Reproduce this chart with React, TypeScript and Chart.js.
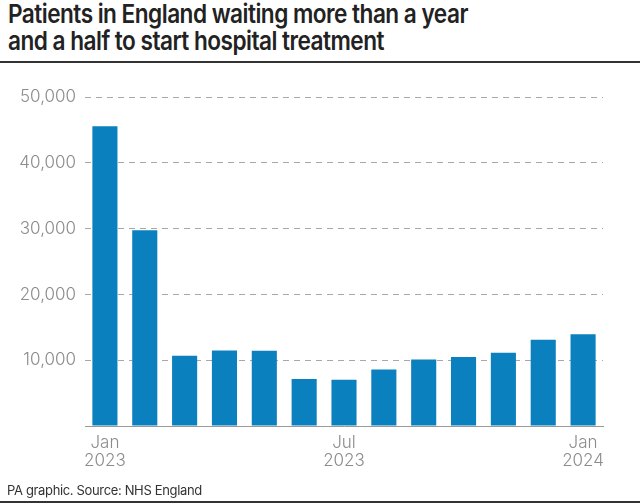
import React, { useEffect, useRef } from "react";
import { Chart, registerables } from "chart.js";

Chart.register(...registerables);

const months = ["Jan", "Feb", "Mar", "Apr", "May", "Jun", "Jul", "Aug", "Sep", "Oct", "Nov", "Dec", "Jan"];
const years = ["2023", "2023", "2023", "2023", "2023", "2023", "2023", "2023", "2023", "2023", "2023", "2023", "2024"];
const labelledIndices = [0, 6, 12];
const waiting = [45570, 29740, 10670, 11490, 11430, 7130, 7030, 8600, 10120, 10470, 11120, 13100, 13960];
const yTicks = [0, 10000, 20000, 30000, 40000, 50000];

const TITLE_LINE_1 = "Patients in England waiting more than a year";
const TITLE_LINE_2 = "and a half to start hospital treatment";
const SOURCE = "PA graphic. Source: NHS England";

export default function App() {
  const canvasRef = useRef<HTMLCanvasElement | null>(null);

  useEffect(() => {
    if (!canvasRef.current) return;
    const chart = new Chart(canvasRef.current, {
      type: "bar",
      data: {
        labels: months.map((m, i) => `${m} ${years[i]}`),
        datasets: [
          {
            data: waiting,
            backgroundColor: "#0b80be",
            borderWidth: 0,
            categoryPercentage: 1,
            barPercentage: 0.63,
          },
        ],
      },
      options: {
        animation: false,
        responsive: false,
        maintainAspectRatio: false,
        layout: { padding: { left: 0, right: 37, top: 97, bottom: 28 } },
        plugins: { legend: { display: false }, tooltip: { enabled: false } },
        scales: {
          x: {
            grid: { display: false },
            border: { display: true, color: "#9a9a9a", width: 1 },
            afterFit: (s: any) => {
              s.height = 50;
            },
            ticks: {
              autoSkip: false,
              maxRotation: 0,
              padding: 0,
              color: "#8c8c8c",
              font: { family: "Inter", size: 17, weight: 300 as any, lineHeight: 1.06 },
              callback: (_v: any, i: number) =>
                labelledIndices.includes(i) ? [months[i], years[i]] : "",
            },
          },
          y: {
            min: 0,
            max: 50000,
            afterFit: (s: any) => {
              s.width = 85;
            },
            afterBuildTicks: (s: any) => {
              s.ticks = yTicks.map((v) => ({ value: v }));
            },
            grid: {
              color: (ctx: any) => (ctx.tick && ctx.tick.value === 0 ? "rgba(0,0,0,0)" : "#a8a8a8"),
              lineWidth: 1,
              drawTicks: false,
            },
            border: { display: false, dash: [6, 5] },
            ticks: {
              padding: 9,
              color: "#8c8c8c",
              font: { family: "Inter", size: 17, weight: 300 as any },
              callback: (v: any) => (v === 0 ? "" : Number(v).toLocaleString("en-GB")),
            },
          } as any,
        },
      },
    });
    return () => chart.destroy();
  }, []);

  return (
    <div
      style={{
        position: "fixed",
        left: 0,
        top: 0,
        width: 640,
        height: 504,
        background: "#fff",
        overflow: "hidden",
        fontFamily: "Inter, 'Noto Sans', sans-serif",
      }}
    >
      <div
        style={{
          position: "absolute",
          left: 8,
          top: 0,
          width: 700,
          fontSize: 26,
          fontWeight: 600,
          lineHeight: "27px",
          letterSpacing: "-0.6px",
          color: "#222",
          transform: "scaleX(0.87)",
          transformOrigin: "left top",
          whiteSpace: "nowrap",
        }}
      >
        {TITLE_LINE_1}
        <br />
        {TITLE_LINE_2}
      </div>
      <div style={{ position: "absolute", left: 0, top: 61, width: 640, height: 2, background: "#333" }} />
      <canvas ref={canvasRef} width={640} height={504} style={{ position: "absolute", left: 0, top: 0 }} />
      <div
        style={{
          position: "absolute",
          left: 7,
          top: 482,
          fontSize: 13,
          lineHeight: "16px",
          letterSpacing: "-0.35px",
          color: "#333",
          whiteSpace: "nowrap",
        }}
      >
        {SOURCE}
      </div>
      <div style={{ position: "absolute", left: 0, top: 501, width: 640, height: 2, background: "#333" }} />
    </div>
  );
}
